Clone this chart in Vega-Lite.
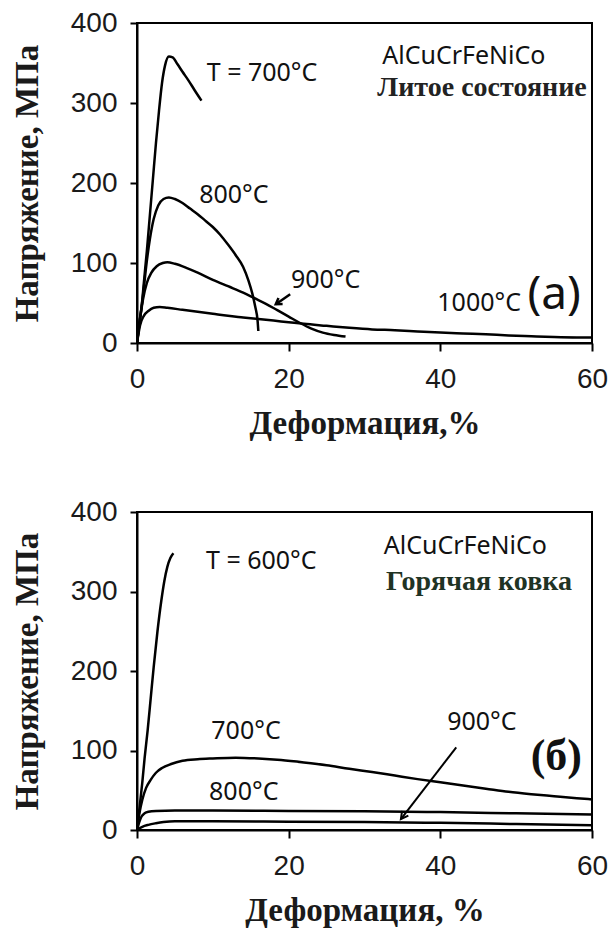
{
  "$schema": "https://vega.github.io/schema/vega-lite/v6.json",
  "background": "white",
  "padding": {"left": 10, "top": 8, "right": 5, "bottom": 5},
  "spacing": 56,
  "config": {
    "view": {"stroke": "black", "strokeWidth": 2},
    "axis": {
      "grid": false,
      "domainColor": "black",
      "domainWidth": 2,
      "tickColor": "black",
      "tickWidth": 2,
      "labelFont": "Liberation Sans",
      "labelFontSize": 28,
      "labelColor": "#1a1a1a",
      "labelFlush": false,
      "labelOverlap": false,
      "titleFont": "Liberation Serif",
      "titleFontWeight": "bold",
      "titleFontSize": 33,
      "titleColor": "#1a1a1a"
    },
    "axisY": {"tickSize": 7, "labelPadding": 13, "titlePadding": 26},
    "axisX": {"tickSize": 8, "labelPadding": 14, "titlePadding": 14}
  },
  "datasets": {
    "cast": [
      {"T": "700", "strain": 0, "stress": 0}, {"T": "700", "strain": 0.3, "stress": 25}, {"T": "700", "strain": 0.6, "stress": 45}, {"T": "700", "strain": 0.9, "stress": 75}, {"T": "700", "strain": 1.3, "stress": 115}, {"T": "700", "strain": 1.7, "stress": 160}, {"T": "700", "strain": 2.1, "stress": 205}, {"T": "700", "strain": 2.5, "stress": 250}, {"T": "700", "strain": 2.9, "stress": 290}, {"T": "700", "strain": 3.3, "stress": 325}, {"T": "700", "strain": 3.7, "stress": 347}, {"T": "700", "strain": 4.2, "stress": 358}, {"T": "700", "strain": 4.7, "stress": 357}, {"T": "700", "strain": 5.3, "stress": 349}, {"T": "700", "strain": 6.0, "stress": 339}, {"T": "700", "strain": 6.8, "stress": 328}, {"T": "700", "strain": 7.6, "stress": 316}, {"T": "700", "strain": 8.5, "stress": 303},
      {"T": "800", "strain": 0, "stress": 0}, {"T": "800", "strain": 0.4, "stress": 30}, {"T": "800", "strain": 0.8, "stress": 60}, {"T": "800", "strain": 1.2, "stress": 95}, {"T": "800", "strain": 1.7, "stress": 130}, {"T": "800", "strain": 2.2, "stress": 155}, {"T": "800", "strain": 2.8, "stress": 172}, {"T": "800", "strain": 3.5, "stress": 180}, {"T": "800", "strain": 4.2, "stress": 182}, {"T": "800", "strain": 5, "stress": 180}, {"T": "800", "strain": 6, "stress": 175}, {"T": "800", "strain": 7, "stress": 168}, {"T": "800", "strain": 8, "stress": 161}, {"T": "800", "strain": 9, "stress": 153}, {"T": "800", "strain": 10, "stress": 145}, {"T": "800", "strain": 11, "stress": 135}, {"T": "800", "strain": 12, "stress": 123}, {"T": "800", "strain": 13, "stress": 110}, {"T": "800", "strain": 14, "stress": 95}, {"T": "800", "strain": 14.7, "stress": 78}, {"T": "800", "strain": 15.2, "stress": 62}, {"T": "800", "strain": 15.6, "stress": 45}, {"T": "800", "strain": 15.9, "stress": 28}, {"T": "800", "strain": 16, "stress": 15},
      {"T": "900", "strain": 0, "stress": 0}, {"T": "900", "strain": 0.4, "stress": 30}, {"T": "900", "strain": 0.8, "stress": 55}, {"T": "900", "strain": 1.3, "stress": 75}, {"T": "900", "strain": 1.9, "stress": 88}, {"T": "900", "strain": 2.6, "stress": 96}, {"T": "900", "strain": 3.4, "stress": 100}, {"T": "900", "strain": 4, "stress": 101}, {"T": "900", "strain": 5, "stress": 99}, {"T": "900", "strain": 6.5, "stress": 94}, {"T": "900", "strain": 8, "stress": 88}, {"T": "900", "strain": 10, "stress": 79}, {"T": "900", "strain": 12, "stress": 71}, {"T": "900", "strain": 14, "stress": 63}, {"T": "900", "strain": 15.5, "stress": 56}, {"T": "900", "strain": 17, "stress": 49}, {"T": "900", "strain": 18.5, "stress": 41}, {"T": "900", "strain": 20, "stress": 33}, {"T": "900", "strain": 21.5, "stress": 25}, {"T": "900", "strain": 23, "stress": 18}, {"T": "900", "strain": 24.5, "stress": 13}, {"T": "900", "strain": 26, "stress": 10}, {"T": "900", "strain": 27.5, "stress": 8},
      {"T": "1000", "strain": 0, "stress": 0}, {"T": "1000", "strain": 0.4, "stress": 22}, {"T": "1000", "strain": 0.9, "stress": 34}, {"T": "1000", "strain": 1.5, "stress": 40}, {"T": "1000", "strain": 2.2, "stress": 44}, {"T": "1000", "strain": 3, "stress": 45}, {"T": "1000", "strain": 4, "stress": 44}, {"T": "1000", "strain": 6, "stress": 41.5}, {"T": "1000", "strain": 8, "stress": 39}, {"T": "1000", "strain": 10, "stress": 36.5}, {"T": "1000", "strain": 12, "stress": 34}, {"T": "1000", "strain": 14, "stress": 32}, {"T": "1000", "strain": 16, "stress": 30}, {"T": "1000", "strain": 18, "stress": 28}, {"T": "1000", "strain": 20, "stress": 26}, {"T": "1000", "strain": 22, "stress": 24}, {"T": "1000", "strain": 25, "stress": 21.5}, {"T": "1000", "strain": 28, "stress": 19}, {"T": "1000", "strain": 31, "stress": 17}, {"T": "1000", "strain": 34, "stress": 16}, {"T": "1000", "strain": 37, "stress": 14.5}, {"T": "1000", "strain": 40, "stress": 13}, {"T": "1000", "strain": 43, "stress": 12}, {"T": "1000", "strain": 46, "stress": 11}, {"T": "1000", "strain": 49, "stress": 9.5}, {"T": "1000", "strain": 52, "stress": 8.5}, {"T": "1000", "strain": 55, "stress": 7.5}, {"T": "1000", "strain": 58, "stress": 7}, {"T": "1000", "strain": 60, "stress": 7}
    ],
    "forged": [
      {"T": "600", "strain": 0, "stress": 0}, {"T": "600", "strain": 0.3, "stress": 25}, {"T": "600", "strain": 0.7, "stress": 60}, {"T": "600", "strain": 1.0, "stress": 90}, {"T": "600", "strain": 1.4, "stress": 125}, {"T": "600", "strain": 1.8, "stress": 165}, {"T": "600", "strain": 2.2, "stress": 205}, {"T": "600", "strain": 2.7, "stress": 250}, {"T": "600", "strain": 3.2, "stress": 288}, {"T": "600", "strain": 3.6, "stress": 313}, {"T": "600", "strain": 4.0, "stress": 331}, {"T": "600", "strain": 4.4, "stress": 342}, {"T": "600", "strain": 4.8, "stress": 348},
      {"T": "700", "strain": 0, "stress": 0}, {"T": "700", "strain": 0.3, "stress": 20}, {"T": "700", "strain": 0.7, "stress": 38}, {"T": "700", "strain": 1.2, "stress": 53}, {"T": "700", "strain": 1.8, "stress": 63}, {"T": "700", "strain": 2.5, "stress": 72}, {"T": "700", "strain": 3.3, "stress": 78}, {"T": "700", "strain": 4.5, "stress": 83}, {"T": "700", "strain": 6, "stress": 87}, {"T": "700", "strain": 8, "stress": 89}, {"T": "700", "strain": 10, "stress": 90}, {"T": "700", "strain": 13, "stress": 91}, {"T": "700", "strain": 16, "stress": 90}, {"T": "700", "strain": 19, "stress": 88}, {"T": "700", "strain": 22, "stress": 85}, {"T": "700", "strain": 25, "stress": 81.5}, {"T": "700", "strain": 28, "stress": 77}, {"T": "700", "strain": 31, "stress": 73}, {"T": "700", "strain": 34, "stress": 68.5}, {"T": "700", "strain": 37, "stress": 64}, {"T": "700", "strain": 40, "stress": 60}, {"T": "700", "strain": 43, "stress": 56}, {"T": "700", "strain": 46, "stress": 52}, {"T": "700", "strain": 49, "stress": 48}, {"T": "700", "strain": 52, "stress": 45}, {"T": "700", "strain": 55, "stress": 42.5}, {"T": "700", "strain": 58, "stress": 40}, {"T": "700", "strain": 60, "stress": 38.5},
      {"T": "800", "strain": 0, "stress": 0}, {"T": "800", "strain": 0.3, "stress": 10}, {"T": "800", "strain": 0.6, "stress": 17}, {"T": "800", "strain": 1.0, "stress": 21}, {"T": "800", "strain": 1.5, "stress": 23}, {"T": "800", "strain": 2.5, "stress": 24}, {"T": "800", "strain": 5, "stress": 24.5}, {"T": "800", "strain": 10, "stress": 24.5}, {"T": "800", "strain": 20, "stress": 24}, {"T": "800", "strain": 30, "stress": 23.5}, {"T": "800", "strain": 40, "stress": 22.5}, {"T": "800", "strain": 50, "stress": 21}, {"T": "800", "strain": 60, "stress": 19.5},
      {"T": "900", "strain": 0, "stress": 0}, {"T": "900", "strain": 0.7, "stress": 4}, {"T": "900", "strain": 1.5, "stress": 6.5}, {"T": "900", "strain": 2.5, "stress": 8.5}, {"T": "900", "strain": 3.5, "stress": 10}, {"T": "900", "strain": 5, "stress": 11}, {"T": "900", "strain": 10, "stress": 11}, {"T": "900", "strain": 20, "stress": 10.5}, {"T": "900", "strain": 30, "stress": 10}, {"T": "900", "strain": 40, "stress": 9}, {"T": "900", "strain": 50, "stress": 7.5}, {"T": "900", "strain": 60, "stress": 6}
    ],
    "castTempLabels": [
      {"label": "T = 700°C", "strain": 9.2, "stress": 327},
      {"label": "800°C", "strain": 8.2, "stress": 175},
      {"label": "900°C", "strain": 20.3, "stress": 69},
      {"label": "1000°C", "strain": 39.6, "stress": 40}
    ],
    "forgedTempLabels": [
      {"label": "T = 600°C", "strain": 9.1, "stress": 328},
      {"label": "700°C", "strain": 9.8, "stress": 114},
      {"label": "800°C", "strain": 9.5, "stress": 38},
      {"label": "900°C", "strain": 40.9, "stress": 126}
    ],
    "castArrow": [{"strain": 20.2, "stress": 60.9, "strain2": 18.3, "stress2": 48.4}],
    "forgedArrow": [{"strain": 42.1, "stress": 104, "strain2": 34.8, "stress2": 13.8}],
    "castAlloy": [{"label": "AlCuCrFeNiCo", "strain": 43.1, "stress": 349}],
    "castState": [{"label": "Литое состояние", "strain": 45.5, "stress": 309}],
    "castPanel": [{"label": "(a)", "strain": 55.0, "stress": 42.5}],
    "forgedAlloy": [{"label": "AlCuCrFeNiCo", "strain": 43.3, "stress": 347}],
    "forgedState": [{"label": "Горячая ковка", "strain": 45.1, "stress": 302}],
    "forgedPanel": [{"label": "(б)", "strain": 55.3, "stress": 75.5}]
  },
  "vconcat": [
    {
      "width": 455,
      "height": 320,
      "encoding": {
        "x": {"field": "strain", "type": "quantitative", "scale": {"domain": [0, 60], "nice": false}, "title": "Деформация,%", "axis": {"values": [0, 20, 40, 60]}},
        "y": {"field": "stress", "type": "quantitative", "scale": {"domain": [0, 400], "nice": false}, "title": "Напряжение, МПа", "axis": {"values": [0, 100, 200, 300, 400]}}
      },
      "layer": [
        {"data": {"name": "cast"}, "mark": {"type": "line", "color": "black", "strokeWidth": 2.5, "interpolate": "monotone", "clip": true}, "encoding": {"detail": {"field": "T"}}},
        {"data": {"name": "castArrow"}, "mark": {"type": "rule", "color": "black", "strokeWidth": 2.5}, "encoding": {"x2": {"field": "strain2"}, "y2": {"field": "stress2"}}},
        {"data": {"name": "castArrow"}, "mark": {"type": "point", "shape": "M-0.7,1.1L0,0L0.7,1.1", "filled": false, "stroke": "black", "strokeWidth": 2.5, "size": 110, "angle": 236, "opacity": 1}, "encoding": {"x": {"field": "strain2", "type": "quantitative"}, "y": {"field": "stress2", "type": "quantitative"}}},
        {"data": {"name": "castTempLabels"}, "mark": {"type": "text", "font": "Noto Sans", "fontSize": 25, "align": "left", "baseline": "alphabetic", "color": "#111"}, "encoding": {"text": {"field": "label"}}},
        {"data": {"name": "castAlloy"}, "mark": {"type": "text", "font": "Noto Sans", "fontSize": 25, "align": "center", "baseline": "alphabetic", "color": "#111"}, "encoding": {"text": {"field": "label"}}},
        {"data": {"name": "castState"}, "mark": {"type": "text", "font": "Liberation Serif", "fontWeight": "bold", "fontSize": 28, "align": "center", "baseline": "alphabetic", "color": "#222"}, "encoding": {"text": {"field": "label"}}},
        {"data": {"name": "castPanel"}, "mark": {"type": "text", "font": "Noto Sans", "fontSize": 46, "align": "center", "baseline": "alphabetic", "color": "#111"}, "encoding": {"text": {"field": "label"}}}
      ]
    },
    {
      "width": 455,
      "height": 318,
      "encoding": {
        "x": {"field": "strain", "type": "quantitative", "scale": {"domain": [0, 60], "nice": false}, "title": "Деформация, %", "axis": {"values": [0, 20, 40, 60]}},
        "y": {"field": "stress", "type": "quantitative", "scale": {"domain": [0, 400], "nice": false}, "title": "Напряжение, МПа", "axis": {"values": [0, 100, 200, 300, 400]}}
      },
      "layer": [
        {"data": {"name": "forged"}, "mark": {"type": "line", "color": "black", "strokeWidth": 2.5, "interpolate": "monotone", "clip": true}, "encoding": {"detail": {"field": "T"}}},
        {"data": {"name": "forgedArrow"}, "mark": {"type": "rule", "color": "black", "strokeWidth": 2}, "encoding": {"x2": {"field": "strain2"}, "y2": {"field": "stress2"}}},
        {"data": {"name": "forgedArrow"}, "mark": {"type": "point", "shape": "M-0.6,1.1L0,0L0.6,1.1", "filled": false, "stroke": "black", "strokeWidth": 2, "size": 170, "angle": 217, "opacity": 1}, "encoding": {"x": {"field": "strain2", "type": "quantitative"}, "y": {"field": "stress2", "type": "quantitative"}}},
        {"data": {"name": "forgedTempLabels"}, "mark": {"type": "text", "font": "Noto Sans", "fontSize": 25, "align": "left", "baseline": "alphabetic", "color": "#111"}, "encoding": {"text": {"field": "label"}}},
        {"data": {"name": "forgedAlloy"}, "mark": {"type": "text", "font": "Noto Sans", "fontSize": 25, "align": "center", "baseline": "alphabetic", "color": "#111"}, "encoding": {"text": {"field": "label"}}},
        {"data": {"name": "forgedState"}, "mark": {"type": "text", "font": "Liberation Serif", "fontWeight": "bold", "fontSize": 28, "align": "center", "baseline": "alphabetic", "color": "#1f3324"}, "encoding": {"text": {"field": "label"}}},
        {"data": {"name": "forgedPanel"}, "mark": {"type": "text", "font": "Liberation Serif", "fontWeight": "bold", "fontSize": 44, "align": "center", "baseline": "alphabetic", "color": "#111"}, "encoding": {"text": {"field": "label"}}}
      ]
    }
  ]
}
